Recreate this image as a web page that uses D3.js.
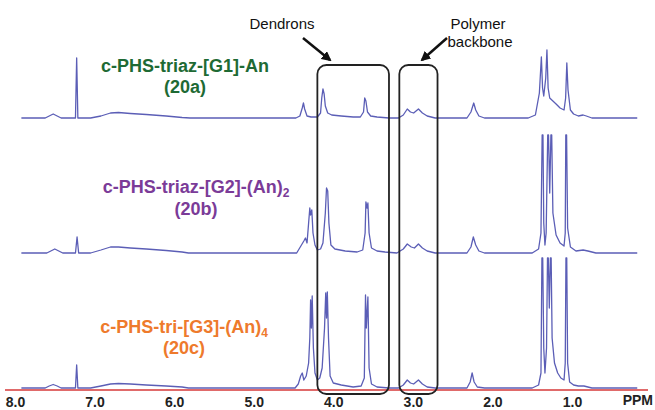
<!DOCTYPE html>
<meta charset="utf-8">
<style>
  body { margin: 0; background: #fff; }
  text { font-family: "Liberation Sans", Arial, sans-serif; }
</style>
<script src="https://d3js.org/d3.v7.min.js"></script>
<div id="chart"></div>
<script>
  // ppm ticks on the bottom axis
  var tickValues = [8, 7, 6, 5, 4, 3, 2, 1];
  var spectra = ["20a", "20b", "20c"];

  // traces: [ppm, intensity]
  var spec20a = [
    [7.92,0],[7.62,0],[7.57,2],[7.52,4],[7.47,2],[7.42,0],[7.24,0],[7.225,60],[7.21,0],[7.05,0],
    [6.92,2],[6.80,5],[6.70,5.5],[6.55,4.5],[6.35,3.5],[6.10,2],[5.90,0.5],[5.80,0],[4.47,0],[4.42,2],
    [4.39,10],[4.375,15],[4.36,9],[4.33,2],[4.28,1],[4.20,1],[4.16,5],[4.145,20],[4.13,29],[4.115,24],
    [4.10,12],[4.07,5],[4.02,3],[3.90,2],[3.75,1],[3.66,1],[3.62,6],[3.605,20],[3.59,17],[3.57,6],
    [3.53,2],[3.45,1],[3.30,0],[3.18,0],[3.12,3],[3.07,9],[3.03,6],[2.99,5],[2.93,9],[2.88,5],
    [2.82,2],[2.72,0],[2.32,0],[2.27,6],[2.235,15],[2.21,8],[2.17,2],[2.10,0],[1.55,0],[1.46,3],
    [1.41,25],[1.385,61],[1.37,30],[1.355,22],[1.33,40],[1.315,68],[1.30,30],[1.28,20],[1.24,17],[1.20,14],
    [1.15,10],[1.10,8],[1.08,20],[1.065,55],[1.05,28],[1.02,8],[0.98,4],[0.92,2],[0.86,3],[0.82,2],
    [0.75,0],[0.50,0],[0.18,0]
  ];
  var spec20b = [
    [7.92,0],[7.60,0],[7.55,2],[7.50,4],[7.45,2],[7.40,0],[7.24,0],[7.22,16],[7.20,0],[7.05,0],
    [6.92,3],[6.80,6],[6.70,6],[6.55,5],[6.35,4],[6.10,2.5],[5.90,1],[5.82,0],[4.46,0],[4.40,8],
    [4.37,12],[4.35,15],[4.33,10],[4.31,30],[4.295,45],[4.285,38],[4.27,43],[4.255,20],[4.23,8],[4.20,3],
    [4.16,4],[4.13,10],[4.10,40],[4.085,65],[4.07,62],[4.055,30],[4.03,8],[3.98,4],[3.85,2],[3.70,1],
    [3.63,3],[3.60,20],[3.59,51],[3.575,45],[3.565,50],[3.55,20],[3.52,5],[3.45,2],[3.35,1],[3.20,0],
    [3.12,4],[3.07,9],[3.02,6],[2.98,5],[2.93,9],[2.88,5],[2.82,2],[2.72,0],[2.32,0],[2.27,6],
    [2.24,16],[2.21,8],[2.17,2],[2.10,0],[1.50,0],[1.42,4],[1.39,20],[1.375,118],[1.365,118],[1.355,30],
    [1.34,8],[1.325,20],[1.305,118],[1.295,118],[1.28,60],[1.265,118],[1.255,118],[1.24,40],[1.20,18],[1.15,10],
    [1.10,7],[1.085,20],[1.078,118],[1.068,118],[1.055,25],[1.02,6],[0.95,2],[0.86,3],[0.80,2],[0.70,0],
    [0.18,0]
  ];
  var spec20c = [
    [7.92,0],[7.62,0],[7.57,2],[7.52,3.5],[7.47,2],[7.42,0],[7.24,0],[7.225,23],[7.21,0],[7.05,0],
    [6.92,2],[6.80,4],[6.70,4.5],[6.55,4],[6.35,3],[6.10,2],[5.90,1],[5.82,0],[4.48,0],[4.44,4],
    [4.41,12],[4.39,15],[4.37,8],[4.34,12],[4.31,25],[4.295,50],[4.285,88],[4.275,60],[4.265,92],[4.25,40],
    [4.23,15],[4.20,8],[4.17,10],[4.14,20],[4.11,60],[4.095,95],[4.085,70],[4.075,96],[4.06,50],[4.04,12],
    [4.00,5],[3.90,3],[3.75,1],[3.65,2],[3.61,10],[3.595,93],[3.585,60],[3.565,91],[3.55,20],[3.52,4],
    [3.45,1],[3.30,0],[3.18,0],[3.12,3],[3.07,8],[3.03,5],[2.99,4],[2.93,8],[2.88,4],[2.82,1],
    [2.72,0],[2.32,0],[2.28,6],[2.255,15],[2.23,6],[2.19,1],[2.10,0],[1.50,0],[1.42,3],[1.39,15],
    [1.378,130],[1.368,130],[1.355,40],[1.34,15],[1.32,40],[1.308,130],[1.298,130],[1.285,80],[1.272,130],[1.262,130],
    [1.25,50],[1.22,25],[1.18,15],[1.14,10],[1.10,8],[1.085,25],[1.076,130],[1.066,130],[1.055,25],[1.03,6],
    [0.98,3],[0.92,2],[0.85,2],[0.75,0],[0.18,0]
  ];
  var traces = { "20a": spec20a, "20b": spec20b, "20c": spec20c };

  var width = 655, height = 410;

  var svg = d3.select("#chart")
    .append("svg")
    .attr("width", width)
    .attr("height", height);

  var x = d3.scaleLinear()
    .domain([8, 1])
    .range([15, 572]);

  // baseline of each stacked spectrum
  var base = d3.scalePoint()
    .domain(spectra)
    .range([118, 388]);

  var amp = d3.scaleLinear()
    .domain([0, 100])
    .range([0, 100]);

  // red ppm axis
  var axis = svg.append("g")
    .attr("transform", "translate(0,390)")
    .call(d3.axisBottom(x).tickValues(tickValues).tickSize(0).tickPadding(7)
      .tickFormat(d3.format(".1f")));
  axis.select(".domain").remove();
  axis.selectAll("text")
    .attr("font-size", 14)
    .attr("font-weight", "bold")
    .attr("fill", "#222")
    .attr("font-family", "Liberation Sans, Arial, sans-serif");
  axis.insert("line", ":first-child")
    .attr("x1", 5).attr("x2", 648)
    .attr("stroke", "#e06a6a")
    .attr("stroke-width", 2);

  svg.append("text")
    .attr("x", 653).attr("y", 405)
    .attr("text-anchor", "end")
    .attr("font-size", 14)
    .attr("font-weight", "bold")
    .attr("fill", "#222")
    .text("PPM");

  // spectra
  spectra.forEach(function (k) {
    var line = d3.line()
      .x(function (d) { return x(d[0]); })
      .y(function (d) { return base(k) - amp(d[1]); });
    svg.append("path")
      .datum(traces[k])
      .attr("fill", "none")
      .attr("stroke", "#5b5eb6")
      .attr("stroke-width", 1.3)
      .attr("stroke-linejoin", "round")
      .attr("d", line);
  });

  // boxes around the dendron and backbone regions
  var boxes = [[4.2, 3.3], [3.17, 2.69]];
  svg.selectAll("rect.box")
    .data(boxes)
    .enter()
    .append("rect")
    .attr("class", "box")
    .attr("x", function (d) { return x(d[0]); })
    .attr("width", function (d) { return x(d[1]) - x(d[0]); })
    .attr("y", 65)
    .attr("height", 329)
    .attr("rx", 9)
    .attr("fill", "none")
    .attr("stroke", "#222")
    .attr("stroke-width", 1.8);

  // arrows
  svg.append("defs").append("marker")
    .attr("id", "head")
    .attr("viewBox", "0 0 10 10")
    .attr("refX", 8).attr("refY", 5)
    .attr("markerWidth", 4).attr("markerHeight", 4)
    .attr("orient", "auto")
    .append("path")
    .attr("d", "M0,0 L10,5 L0,10 z")
    .attr("fill", "#111");

  var arrows = [[303, 38, 330, 60], [447, 38, 422, 60]];
  svg.selectAll("line.arrow")
    .data(arrows)
    .enter()
    .append("line")
    .attr("class", "arrow")
    .attr("x1", function (d) { return d[0]; })
    .attr("y1", function (d) { return d[1]; })
    .attr("x2", function (d) { return d[2]; })
    .attr("y2", function (d) { return d[3]; })
    .attr("stroke", "#111")
    .attr("stroke-width", 2.5)
    .attr("marker-end", "url(#head)");

  svg.append("text").attr("x", 282).attr("y", 29)
    .attr("text-anchor", "middle").attr("font-size", 15).attr("fill", "#111")
    .text("Dendrons");
  svg.append("text").attr("x", 478).attr("y", 29)
    .attr("text-anchor", "middle").attr("font-size", 15).attr("fill", "#111")
    .text("Polymer");
  svg.append("text").attr("x", 480).attr("y", 47)
    .attr("text-anchor", "middle").attr("font-size", 15).attr("fill", "#111")
    .text("backbone");

  // compound labels
  function label(cx, y1, y2, color, main, sub, tag) {
    var t = svg.append("text")
      .attr("x", cx).attr("y", y1)
      .attr("text-anchor", "middle")
      .attr("font-size", 18)
      .attr("font-weight", "bold")
      .attr("fill", color);
    t.append("tspan").text(main);
    if (sub) {
      t.append("tspan").attr("dy", 4).attr("font-size", 12).text(sub);
    }
    svg.append("text")
      .attr("x", cx).attr("y", y2)
      .attr("text-anchor", "middle")
      .attr("font-size", 18)
      .attr("font-weight", "bold")
      .attr("fill", color)
      .text(tag);
  }
  label(185, 72, 93, "#1e6a34", "c-PHS-triaz-[G1]-An", null, "(20a)");
  label(196, 193, 215, "#7b3b98", "c-PHS-triaz-[G2]-(An)", "2", "(20b)");
  label(184, 333, 354, "#ee7a2c", "c-PHS-tri-[G3]-(An)", "4", "(20c)");
</script>
